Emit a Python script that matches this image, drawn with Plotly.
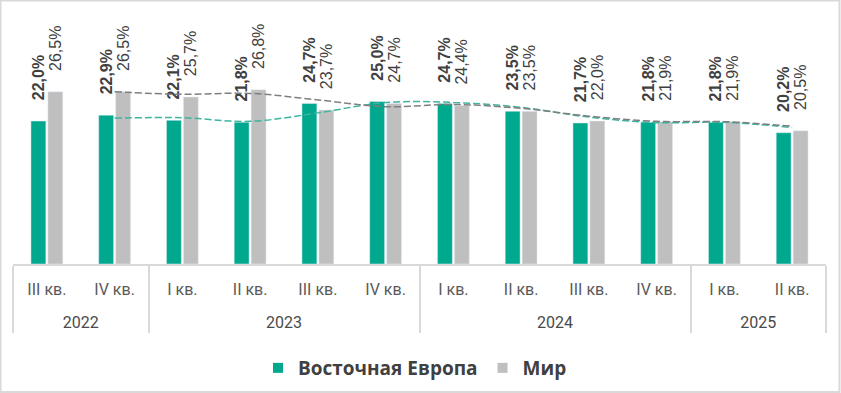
import plotly.graph_objects as go

years = ["2022", "2022", "2023", "2023", "2023", "2023", "2024", "2024", "2024", "2024", "2025", "2025"]
quarters = ["III кв.", "IV кв.", "I кв.", "II кв.", "III кв.", "IV кв.", "I кв.", "II кв.", "III кв.", "IV кв.", "I кв.", "II кв."]
east_europe = [22.0, 22.9, 22.1, 21.8, 24.7, 25.0, 24.7, 23.5, 21.7, 21.8, 21.8, 20.2]
world = [26.5, 26.5, 25.7, 26.8, 23.7, 24.7, 24.4, 23.5, 22.0, 21.9, 21.9, 20.5]

TEAL = "#00A88E"
GRAY = "#BFBFBF"
TXT = "#404040"

# make child labels unique per year (zero-width suffix) so plotly keeps the given order,
# and add blank lines to push the year row down
seen = {}
qlabels = []
for y, q in zip(years, quarters):
    n = seen.get(q, set())
    k = len(n) if y not in n else sorted(n).index(y)
    n.add(y)
    seen[q] = n
    qlabels.append("<span style='font-size:16px'>" + q + "\u200b" * k + "</span><br>\u00a0<br>\u00a0")
ylabels = ["<span style='font-size:16px;color:#4a4a4a'>" + y + "</span>" for y in years]
xcats = [ylabels, qlabels]


def fmt(v):
    return "\u00a0\u00a0\u00a0\u00a0" + f"{v:.1f}".replace(".", ",") + "%"


def moving_avg(vals):
    return [(vals[i - 1] + vals[i]) / 2 for i in range(1, len(vals))]


fig = go.Figure()
fig.add_trace(go.Bar(
    name="Восточная Европа", x=xcats, y=east_europe,
    marker_color=TEAL, text=[fmt(v) for v in east_europe],
    textposition="outside", textangle=-90, constraintext="none", cliponaxis=False,
    textfont=dict(family="Liberation Sans", size=16, color=TXT, weight="bold"),
    showlegend=False,
))
fig.add_trace(go.Bar(
    name="Мир", x=xcats, y=world,
    marker_color=GRAY, text=[fmt(v) for v in world],
    textposition="outside", textangle=-90, constraintext="none", cliponaxis=False,
    textfont=dict(family="Liberation Sans", size=16, color=TXT),
    showlegend=False,
))
fig.add_trace(go.Scatter(
    x=[ylabels[1:], qlabels[1:]], y=moving_avg(east_europe), mode="lines",
    line=dict(color="#3DB5A0", width=1.5, dash="7px,3px", shape="spline"),
    showlegend=False, hoverinfo="skip", cliponaxis=False,
))
fig.add_trace(go.Scatter(
    x=[ylabels[1:], qlabels[1:]], y=moving_avg(world), mode="lines",
    line=dict(color="#7F7F7F", width=1.5, dash="7px,3px", shape="spline"),
    showlegend=False, hoverinfo="skip", cliponaxis=False,
))
# legend entries (square markers)
for name, col in [("Восточная Европа", TEAL), ("Мир", GRAY)]:
    fig.add_trace(go.Scatter(
        x=[None], y=[None], mode="markers", name=name,
        marker=dict(symbol="square", size=10, color=col),
        showlegend=True,
    ))

L, R, T, B = 13, 15, 20, 129
W, H = 841, 393
pw, ph = W - L - R, H - T - B
base = H - B


def px2x(px):
    return (px - L) / pw


def py2y(py):
    return (base - py) / ph


fig.update_layout(
    width=W, height=H,
    margin=dict(l=L, r=R, t=T, b=B, autoexpand=False),
    paper_bgcolor="white", plot_bgcolor="white",
    barmode="group", bargap=0.5, bargroupgap=0.12,
    showlegend=True,
    legend=dict(orientation="h", x=px2x(415), xanchor="center", y=py2y(368), yanchor="middle",
                font=dict(family="Open Sans", size=19, color=TXT, weight="bold"),
                itemwidth=30, tracegroupgap=0),
    xaxis=dict(type="multicategory", showline=True, linecolor="#D9D9D9", linewidth=2,
               showdividers=True, dividercolor="#D9D9D9", dividerwidth=2,
               ticks="", ticklabelstandoff=16,
               tickfont=dict(family="Roboto", size=11, color="#595959"),
               showgrid=False, zeroline=False, automargin=False),
    yaxis=dict(range=[0, ph / 6.5], visible=False, showgrid=False, zeroline=False,
               automargin=False),
    shapes=[dict(type="rect", xref="paper", yref="paper",
                 x0=px2x(0.5), x1=px2x(839.5), y0=py2y(0.5), y1=py2y(392),
                 line=dict(color="#D9D9D9", width=2), layer="below")],
)

fig.write_html("out.html", config={"displayModeBar": False},
               post_script="document.body.style.margin='0';document.body.style.overflow='hidden';")
